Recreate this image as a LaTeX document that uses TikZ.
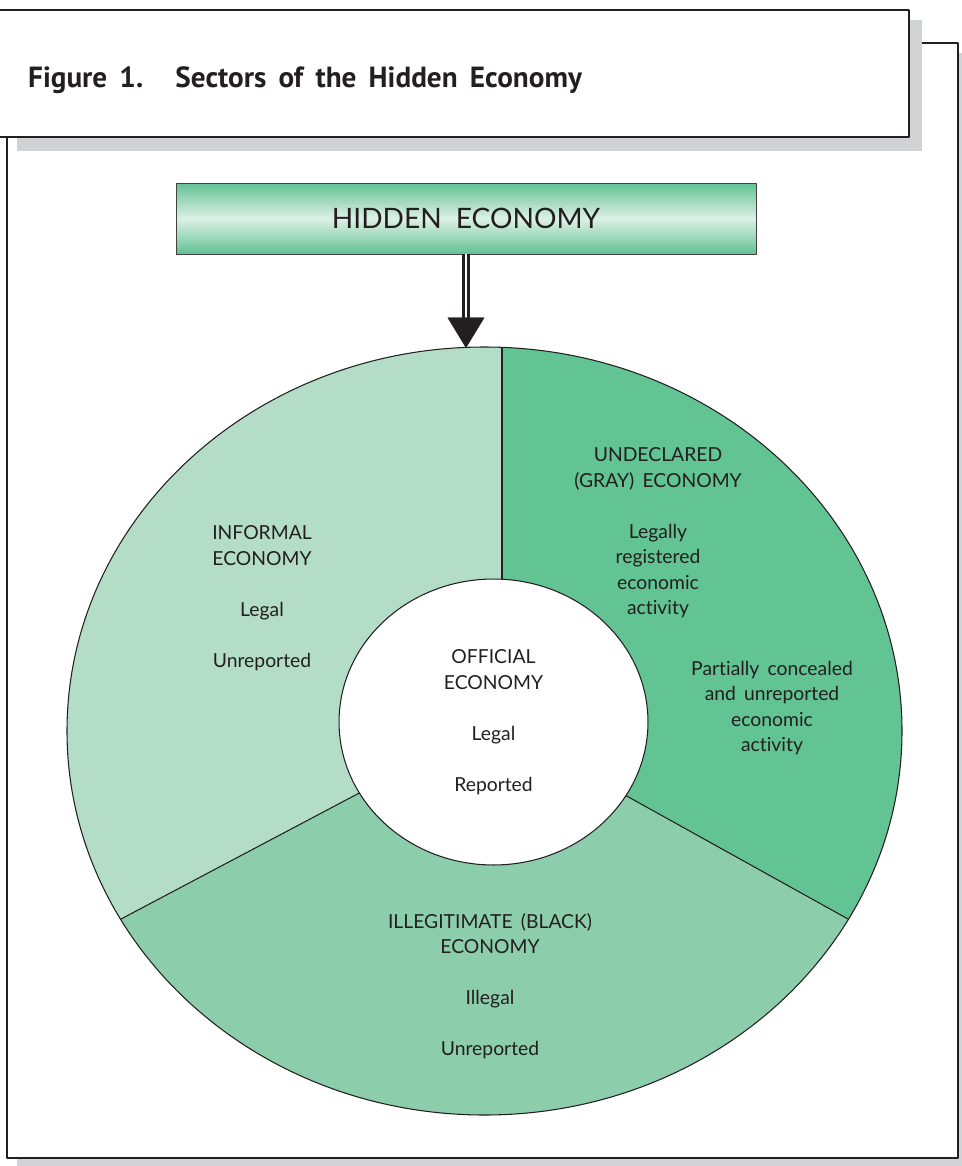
\documentclass[tikz,border=0pt]{standalone}
\usepackage{fontspec}
\setmainfont{Lato}[Ligatures=NoCommon]
\newfontfamily\titlefont{PT Sans}
\usetikzlibrary{arrows.meta,calc,shapes.geometric,positioning}
\definecolor{informal}{HTML}{B3DDC7}
\definecolor{graysec}{HTML}{62C393}
\definecolor{blacksec}{HTML}{8CCDAB}
\definecolor{hdgreen}{HTML}{62C194}
\definecolor{hdlight}{HTML}{DDF1E6}
\definecolor{shadowgray}{HTML}{D1D2D4}
\definecolor{ink}{HTML}{231F20}
\newcommand\sectorfont{\fontsize{11}{14.5}\selectfont\spaceskip 0.42em\relax}
\newcommand\headfont{\titlefont\bfseries\fontsize{16.6}{19}\selectfont\spaceskip 0.42em\relax}
\tikzset{
  sector/.style={align=center, text=ink, font=\sectorfont},
  hdbox/.style={draw=ink!85, line width=0.5pt, top color=hdgreen, bottom color=hdgreen, middle color=hdlight,
    minimum width=11.6cm, minimum height=1.42cm, text=ink, font=\fontsize{16}{19}\selectfont},
  framebox/.style={fill=white, draw=ink, line width=1.1pt},
  divider/.style={draw=ink, line width=0.6pt},
  shaft/.style={draw=ink, double=white, double distance=1.5pt, line width=1.6pt},
  head/.style={-{Triangle[length=6.1mm,width=7.4mm]}, draw=ink, fill=ink, line width=0.2pt}
}
\begin{document}
\begin{tikzpicture}[x=0.02cm, y=-0.02cm, line join=round]
	\def\rx{417.5} % outer half width
	\def\ry{384}   % outer half height
	\useasboundingbox (0,0) rectangle (962,1166);
	% frame and title box, with their shadows
	\fill[shadowgray] (17,53) rectangle (975,1175);
	\draw[framebox] (7,43) rectangle (958,1158);
	\fill[shadowgray] (17,20) rectangle (922,151);
	\draw[framebox] (-5,10) rectangle (909,137);
	\node[anchor=base west, text=ink, font=\headfont] (title) at (22,88) {Figure 1.\hspace{0.6em} Sectors of the Hidden Economy};
	\coordinate (O) at (484.5,731);
	\coordinate (I) at (493.5,722);
	\coordinate (vt) at (502,300);
	\coordinate (vb) at (502,722);
	\coordinate (lo) at ($(I)!1.1!(121,919)$);
	\coordinate (ro) at ($(I)!1.1!(848,919)$);
	\coordinate (tip) at (466,348);
	% sectors
	\begin{scope}
		\clip (O) ellipse [x radius=\rx, y radius=\ry];
		\fill[blacksec] (O) ellipse [x radius=\rx, y radius=\ry];
		\fill[informal] (vb) -- (vt) -- (40,300) -- (40,960) -- (lo) -- (I) -- cycle;
		\fill[graysec] (vb) -- (vt) -- (960,300) -- (960,960) -- (ro) -- (I) -- cycle;
		\draw[divider] (vb) -- (vt);
		\draw[divider] (I) -- (lo);
		\draw[divider] (I) -- (ro);
	\end{scope}
	\draw[divider] (O) ellipse [x radius=\rx, y radius=\ry];
	\node[ellipse, fill=white, divider, minimum width=6.18cm, minimum height=5.72cm, sector] (official) at (I) {OFFICIAL\\ECONOMY\\[14.5pt]Legal\\[14.5pt]Reported};
	\node[sector] (informal) at (262,598) {INFORMAL\\ECONOMY\\[14.5pt]Legal\\[14.5pt]Unreported};
	\node[sector] (undeclared) at (658,533) {UNDECLARED\\(GRAY) ECONOMY\\[14.5pt]Legally\\registered\\economic\\activity};
	\node[sector] (partial) at (772,708) {Partially concealed\\and unreported\\economic\\activity};
	\node[sector] (illegit) at (490,986) {ILLEGITIMATE (BLACK)\\ECONOMY\\[14.5pt]Illegal\\[14.5pt]Unreported};
	% header and arrow
	\node[hdbox] (hidden) at (466,218.5) {HIDDEN\hspace{0.5em}ECONOMY};
	\draw[shaft] (hidden.south) -- ([yshift=5.8mm]tip);
	\draw[head] ([yshift=6.1mm]tip) -- (tip);
\end{tikzpicture}
\end{document}
